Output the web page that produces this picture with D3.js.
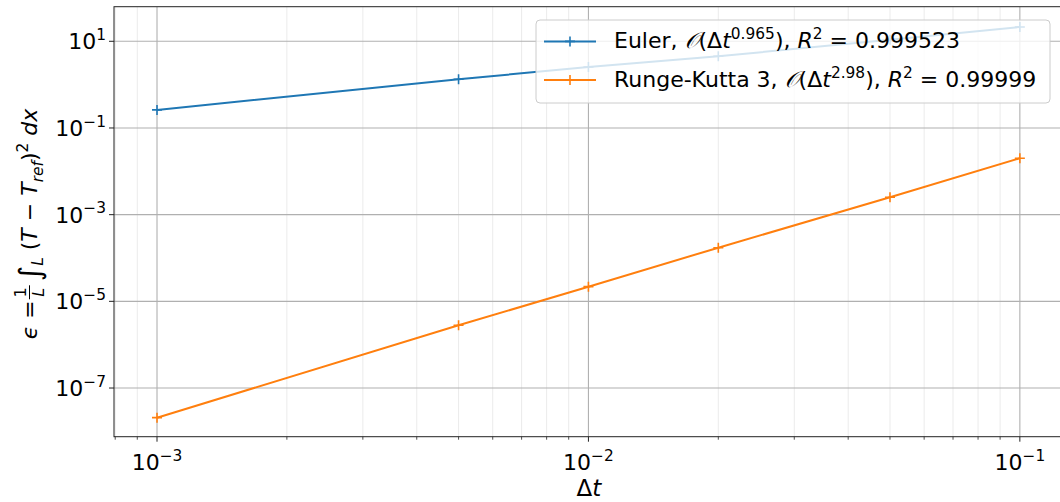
<!DOCTYPE html>
<html><head><meta charset="utf-8">
<script src="https://cdn.jsdelivr.net/npm/d3@7"></script>
<style>
body{margin:0;background:#fff}
svg{display:block}
</style>
</head><body>
<svg id="c" width="1060" height="502" font-family="'DejaVu Sans', sans-serif"></svg>
<script>
// ---- data ----
const dt = [0.001, 0.005, 0.01, 0.02, 0.05, 0.1];
const eulerErr = [0.261, 1.33, 2.56, 4.5, 10.9, 21.4];
const rk3Err = [2.07e-8, 2.8e-6, 2.18e-5, 1.73e-4, 2.52e-3, 0.0200];
const seriesNames = ["Euler", "Runge-Kutta 3"];
const seriesOrders = ["0.965", "2.98"];
const seriesR2 = ["0.999523", "0.99999"];
const seriesColors = ["#1f77b4", "#ff7f0e"];
const xTickExp = [-3, -2, -1];
const yTickExp = [1, -1, -3, -5, -7];

const FS = 22;
const svg = d3.select("#c");
const L = 114, R = 1063, T = 6.7, B = 436.7;
const x = d3.scaleLog().domain([Math.pow(10, -3.0997), Math.pow(10, -0.9)]).range([L, R]);
const y = d3.scaleLog().domain([Math.pow(10, -8.123), Math.pow(10, 1.798)]).range([B, T]);

function rich(sel, parts, size) {
  let shift = 0;
  parts.forEach(([s, st]) => {
    const t = sel.append("tspan").text(s);
    let target = 0, fs = size;
    if (st === "sup") { target = -0.42 * size; fs = 0.7 * size; }
    if (st === "sub") { target = 0.22 * size; fs = 0.7 * size; }
    if (st === "supi") { target = -0.42 * size; fs = 0.7 * size; t.attr("font-style", "italic"); }
    if (st === "subi") { target = 0.25 * size; fs = 0.7 * size; t.attr("font-style", "italic"); }
    if (st === "big") { target = 0.12 * size; fs = 1.35 * size; t.attr("font-style", "italic"); }
    if (st === "i" ) t.attr("font-style", "italic");
    if (st === "cal") t.attr("font-style", "italic");
    t.attr("font-size", fs);
    if (target - shift !== 0) t.attr("dy", target - shift);
    shift = target;
  });
}

svg.append("clipPath").attr("id", "clip").append("rect")
  .attr("x", L).attr("y", T).attr("width", R - L).attr("height", B - T);

const minorX = x.ticks().filter(v => Math.abs(Math.log10(v) - Math.round(Math.log10(v))) > 1e-6);
const majorX = xTickExp.map(e => Math.pow(10, e));
const majorY = yTickExp.map(e => Math.pow(10, e));

const grid = svg.append("g").attr("clip-path", "url(#clip)");
grid.selectAll(".mx").data(minorX).join("line")
  .attr("x1", d => x(d)).attr("x2", d => x(d)).attr("y1", T).attr("y2", B)
  .attr("stroke", "#ebebeb").attr("stroke-width", 1);
grid.selectAll(".Mx").data(majorX).join("line")
  .attr("x1", d => x(d)).attr("x2", d => x(d)).attr("y1", T).attr("y2", B)
  .attr("stroke", "#b0b0b0").attr("stroke-width", 1.1);
grid.selectAll(".My").data(majorY).join("line")
  .attr("x1", L).attr("x2", R).attr("y1", d => y(d)).attr("y2", d => y(d))
  .attr("stroke", "#b0b0b0").attr("stroke-width", 1.1);

const series = [eulerErr, rk3Err];
const plot = svg.append("g").attr("clip-path", "url(#clip)");
const line = d3.line().x(d => x(d[0])).y(d => y(d[1]));
series.forEach((vals, i) => {
  const pts = dt.map((d, j) => [d, vals[j]]);
  plot.append("path").attr("d", line(pts)).attr("fill", "none")
    .attr("stroke", seriesColors[i]).attr("stroke-width", 2);
  plot.selectAll(".m" + i).data(pts).join("path")
    .attr("d", d => `M${x(d[0]) - 5},${y(d[1])}H${x(d[0]) + 5}M${x(d[0])},${y(d[1]) - 5}V${y(d[1]) + 5}`)
    .attr("stroke", seriesColors[i]).attr("stroke-width", 1.6);
});

svg.append("rect").attr("x", L).attr("y", T).attr("width", R - L).attr("height", B - T)
  .attr("fill", "none").attr("stroke", "#222").attr("stroke-width", 1);

svg.selectAll(".xt").data(majorX).join("line")
  .attr("x1", d => x(d)).attr("x2", d => x(d)).attr("y1", B).attr("y2", B + 5)
  .attr("stroke", "#222").attr("stroke-width", 1);
svg.selectAll(".xmt").data(minorX).join("line")
  .attr("x1", d => x(d)).attr("x2", d => x(d)).attr("y1", B).attr("y2", B + 3)
  .attr("stroke", "#222").attr("stroke-width", 0.8);
xTickExp.forEach(e => {
  const t = svg.append("text").attr("x", x(Math.pow(10, e))).attr("y", 470)
    .attr("text-anchor", "middle").attr("font-size", FS);
  rich(t, [["10", "n"], [(e < 0 ? "\u2212" : "") + Math.abs(e), "sup"]], FS);
});
svg.selectAll(".yt").data(majorY).join("line")
  .attr("x1", L - 5).attr("x2", L).attr("y1", d => y(d)).attr("y2", d => y(d))
  .attr("stroke", "#222").attr("stroke-width", 1);
yTickExp.forEach(e => {
  const t = svg.append("text").attr("x", 106).attr("y", y(Math.pow(10, e)) + 8)
    .attr("text-anchor", "end").attr("font-size", FS);
  rich(t, [["10", "n"], [(e < 0 ? "\u2212" : "") + Math.abs(e), "sup"]], FS);
});

const xl = svg.append("text").attr("x", 589).attr("y", 496).attr("text-anchor", "middle").attr("font-size", FS + 1);
rich(xl, [["\u0394", "n"], ["t", "i"]], FS + 1);

// y label
const yg = svg.append("g").attr("transform", "translate(37,224) rotate(-90)");
const yl1 = yg.append("text").attr("x", 0).attr("y", 0).attr("font-size", FS);
rich(yl1, [["\u03F5", "i"], [" = ", "n"]], FS);
const w1 = yl1.node().getComputedTextLength();
const fx = w1 + 1;
const fr = yg.append("g");
fr.append("text").attr("x", fx + 7).attr("y", -11).attr("text-anchor", "middle").attr("font-size", 16).text("1");
fr.append("text").attr("x", fx + 7).attr("y", 7).attr("text-anchor", "middle").attr("font-size", 16).attr("font-style", "italic").text("L");
fr.append("line").attr("x1", fx).attr("x2", fx + 14).attr("y1", -7.5).attr("y2", -7.5).attr("stroke", "#000").attr("stroke-width", 1);
const yl2 = yg.append("text").attr("x", fx + 18).attr("y", 0).attr("font-size", FS);
rich(yl2, [["\u222B", "big"], ["L", "subi"], [" (", "n"], ["T", "i"], [" \u2212 ", "n"], ["T", "i"], ["ref", "subi"], [")", "n"], ["2", "sup"], [" d", "i"], ["x", "i"]], FS);
const total = fx + 18 + yl2.node().getComputedTextLength();
yg.attr("transform", `translate(37,${224 + total / 2}) rotate(-90)`);

// legend
const lg = svg.append("g");
lg.append("rect").attr("x", 536).attr("y", 20).attr("width", 514).attr("height", 83).attr("rx", 4)
  .attr("fill", "#fff").attr("fill-opacity", 0.8).attr("stroke", "#cccccc").attr("stroke-width", 1);
seriesNames.forEach((nm, i) => {
  const yy = 41.4 + i * 38.6;
  lg.append("line").attr("x1", 544).attr("x2", 596).attr("y1", yy).attr("y2", yy)
    .attr("stroke", seriesColors[i]).attr("stroke-width", 2);
  lg.append("path").attr("d", `M565,${yy}H575M570,${yy - 5}V${yy + 5}`)
    .attr("stroke", seriesColors[i]).attr("stroke-width", 1.6);
  const t = lg.append("text").attr("x", 614).attr("y", yy + 7).attr("font-size", FS);
  rich(t, [[nm + ", ", "n"], ["\uD835\uDCAA", "cal"], ["(\u0394", "n"], ["t", "i"], [seriesOrders[i], "sup"],
    ["), ", "n"], ["R", "i"], ["2", "sup"], [" = " + seriesR2[i], "n"]], FS);
});
</script>
</body></html>
